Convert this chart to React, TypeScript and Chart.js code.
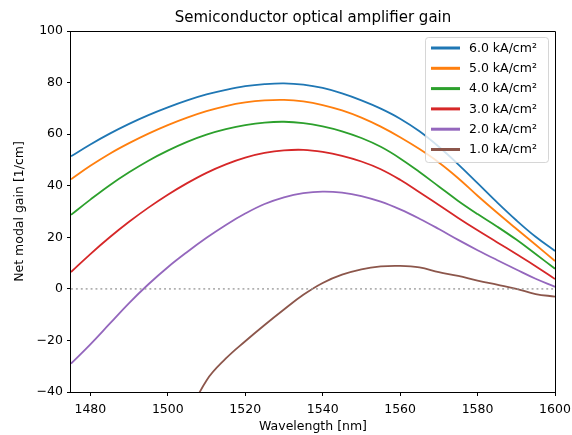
import React, { useEffect, useRef } from "react";
import { Chart, registerables } from "chart.js";

Chart.register(...registerables);

const wavelengths = [1475, 1480, 1485, 1490, 1495, 1500, 1505, 1510, 1515, 1520, 1525, 1530, 1535, 1540, 1545, 1550, 1555, 1560, 1565, 1570, 1575, 1580, 1585, 1590, 1595, 1600];

const gain60 = [51.4, 56.0, 60.2, 64.0, 67.4, 70.4, 73.1, 75.4, 77.2, 78.6, 79.4, 79.7, 79.2, 77.9, 75.8, 73.1, 69.9, 66.0, 61.1, 55.1, 48.3, 41.0, 33.6, 26.6, 20.2, 14.7];
const gain50 = [42.5, 47.7, 52.4, 56.5, 60.2, 63.5, 66.4, 68.9, 70.9, 72.3, 73.1, 73.3, 72.7, 71.3, 69.2, 66.4, 62.9, 58.8, 54.2, 49.0, 42.9, 36.1, 29.6, 23.3, 17.1, 10.8];
const gain40 = [28.7, 34.6, 40.2, 45.2, 49.7, 53.6, 57.0, 59.8, 61.9, 63.5, 64.5, 64.8, 64.3, 63.0, 61.1, 58.5, 55.1, 50.6, 45.3, 39.7, 34.1, 29.0, 24.2, 19.1, 13.5, 7.8];
const gain30 = [6.5, 13.5, 20.0, 26.0, 31.5, 36.5, 41.0, 45.0, 48.3, 50.9, 52.7, 53.7, 53.9, 53.1, 51.6, 49.4, 46.4, 42.3, 37.5, 32.5, 27.5, 22.7, 18.1, 13.5, 8.8, 3.8];
const gain20 = [-29, -21.5, -13.5, -5.5, 1.8, 8.4, 14.3, 19.8, 24.8, 29.2, 32.9, 35.5, 37.1, 37.7, 37.3, 36.0, 33.8, 30.8, 27.2, 23.2, 19.0, 15.0, 11.2, 7.5, 3.9, 0.8];
const gain10 = [null, null, null, null, null, null, -50, -35.5, -27, -20.3, -14, -8, -2.3, 2.3, 5.5, 7.6, 8.7, 8.9, 8.3, 6.5, 5.0, 3.2, 1.6, 0, -2, -3];

const seriesLabels = ["6.0 kA/cm²", "5.0 kA/cm²", "4.0 kA/cm²", "3.0 kA/cm²", "2.0 kA/cm²", "1.0 kA/cm²"];
const seriesColors = ["#1f77b4", "#ff7f0e", "#2ca02c", "#d62728", "#9467bd", "#8c564b"];
const seriesValues = [gain60, gain50, gain40, gain30, gain20, gain10];

const xTicks = [1480, 1500, 1520, 1540, 1560, 1580, 1600];
const yTicks = [-40, -20, 0, 20, 40, 60, 80, 100];

const titleText = "Semiconductor optical amplifier gain";
const xLabel = "Wavelength [nm]";
const yLabel = "Net modal gain [1/cm]";

const FONT = "'DejaVu Sans', sans-serif";

const decorPlugin = {
  id: "decor",
  afterDraw(chart: any) {
    const { ctx, chartArea } = chart;
    const { left, right, top, bottom } = chartArea;
    ctx.save();
    ctx.strokeStyle = "#000";
    ctx.lineWidth = 1;
    const l = Math.floor(left) - 0.5;
    const r = Math.floor(right) + 0.5;
    const t = Math.floor(top) + 0.5;
    const b = Math.floor(bottom) + 0.5;
    ctx.beginPath();
    ctx.rect(l, t, r - l, b - t);
    ctx.stroke();
    ctx.fillStyle = "#000";
    ctx.font = `15px ${FONT}`;
    ctx.textAlign = "center";
    ctx.textBaseline = "alphabetic";
    ctx.fillText(titleText, (left + right) / 2, 22);
    const bx = 425.5, by = 37.5, bw = 123, bh = 125, rad = 3;
    ctx.beginPath();
    ctx.moveTo(bx + rad, by);
    ctx.lineTo(bx + bw - rad, by);
    ctx.arcTo(bx + bw, by, bx + bw, by + rad, rad);
    ctx.lineTo(bx + bw, by + bh - rad);
    ctx.arcTo(bx + bw, by + bh, bx + bw - rad, by + bh, rad);
    ctx.lineTo(bx + rad, by + bh);
    ctx.arcTo(bx, by + bh, bx, by + bh - rad, rad);
    ctx.lineTo(bx, by + rad);
    ctx.arcTo(bx, by, bx + rad, by, rad);
    ctx.closePath();
    ctx.fillStyle = "rgba(255,255,255,0.8)";
    ctx.fill();
    ctx.strokeStyle = "rgba(204,204,204,0.8)";
    ctx.stroke();
    ctx.font = `12.5px ${FONT}`;
    ctx.textAlign = "left";
    ctx.textBaseline = "middle";
    seriesLabels.forEach((lab, i) => {
      const y = 48 + i * 20.3;
      ctx.strokeStyle = seriesColors[i];
      ctx.lineWidth = 3;
      ctx.beginPath();
      ctx.moveTo(431, y);
      ctx.lineTo(460, y);
      ctx.stroke();
      ctx.fillStyle = "#000";
      ctx.fillText(lab, 469, y + 0.5);
    });
    ctx.restore();
  },
};

export default function App() {
  const ref = useRef<HTMLCanvasElement>(null);
  useEffect(() => {
    if (!ref.current) return;
    const datasets: any[] = seriesValues.map((vals, i) => ({
      label: seriesLabels[i],
      data: wavelengths.map((w, j) => ({ x: w, y: vals[j] })),
      borderColor: seriesColors[i],
      backgroundColor: seriesColors[i],
      borderWidth: 1.8,
      pointRadius: 0,
      tension: 0.4,
      spanGaps: false,
      order: 10 - i,
    }));
    datasets.push({
      label: "zero",
      data: [
        { x: wavelengths[0], y: 0 },
        { x: wavelengths[wavelengths.length - 1], y: 0 },
      ],
      borderColor: "rgba(150,150,150,0.75)",
      borderWidth: 1.8,
      borderDash: [1.9, 3],
      pointRadius: 0,
      order: 0,
    });
    const tickFont = { family: FONT, size: 12.5 };
    const chart = new Chart(ref.current, {
      type: "line",
      data: { datasets },
      plugins: [decorPlugin],
      options: {
        animation: false,
        responsive: false,
        devicePixelRatio: 1,
        layout: { padding: { top: 31, right: 17, bottom: 0, left: 0 } },
        plugins: {
          legend: { display: false },
          tooltip: { enabled: false },
          title: { display: false },
        },
        scales: {
          x: {
            type: "linear",
            min: 1475,
            max: 1600,
            afterBuildTicks: (s: any) => {
              s.ticks = xTicks.map((v) => ({ value: v }));
            },
            afterFit: (s: any) => {
              s.height = 43;
              s.paddingLeft = 0;
              s.paddingRight = 0;
            },
            grid: { drawOnChartArea: false, drawTicks: true, tickLength: 4, color: "#000", lineWidth: 1 },
            border: { display: false },
            ticks: {
              color: "#000",
              font: tickFont,
              padding: 6,
              maxRotation: 0,
              autoSkip: false,
              callback: (v: any) => String(v),
            },
            title: { display: true, text: xLabel, color: "#000", font: tickFont, padding: { top: 0, bottom: 1 } },
          },
          y: {
            type: "linear",
            min: -40,
            max: 100,
            afterBuildTicks: (s: any) => {
              s.ticks = yTicks.map((v) => ({ value: v }));
            },
            afterFit: (s: any) => {
              s.width = 71;
              s.paddingTop = 0;
              s.paddingBottom = 0;
            },
            grid: { drawOnChartArea: false, drawTicks: true, tickLength: 4, color: "#000", lineWidth: 1 },
            border: { display: false },
            ticks: {
              color: "#000",
              font: tickFont,
              padding: 4,
              autoSkip: false,
              callback: (v: any) => (v < 0 ? "\u2212" + Math.abs(v) : String(v)),
            },
            title: { display: true, text: yLabel, color: "#000", font: tickFont, padding: { top: 12, bottom: 0 } },
          },
        },
      } as any,
    });
    return () => chart.destroy();
  }, []);
  return (
    <div style={{ position: "fixed", left: 0, top: 0, width: 572, height: 435, background: "#fff" }}>
      <canvas ref={ref} width={572} height={435} style={{ display: "block", width: 572, height: 435 }} />
    </div>
  );
}
